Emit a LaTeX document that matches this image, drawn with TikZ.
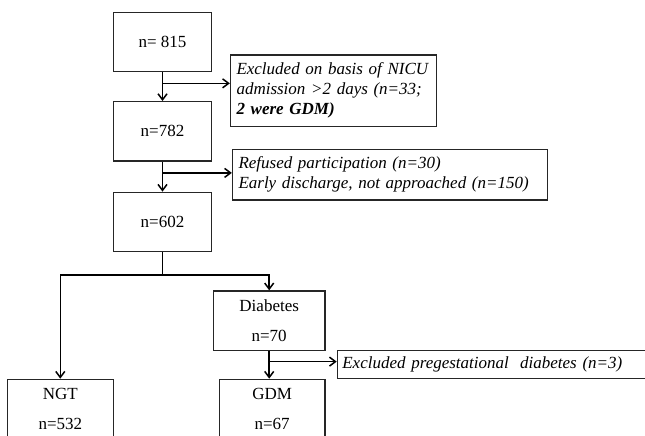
\documentclass[tikz,border=0pt]{standalone}
\usepackage{fontspec}
\setmainfont{Liberation Serif}
\usetikzlibrary{arrows.meta}
\begin{document}
\begin{tikzpicture}[x=1pt,y=-1pt,
  box/.style={draw=black!85,line width=1.3pt,rectangle,inner sep=0pt,
    font=\fontsize{17}{30}\selectfont,align=center},
  exbox/.style={draw=black!85,line width=1.3pt,rectangle,inner xsep=6pt,inner ysep=0pt,
    font=\fontsize{17}{20}\selectfont\itshape,align=left},
  arr/.style={line width=1.6pt,-{Straight Barb[length=6pt,width=9pt,line width=1.5pt]}},
  ln/.style={line width=1.6pt}]
\useasboundingbox (0,0) rectangle (645,436);
\clip (0,0) rectangle (645,436);
\fill[white] (0,0) rectangle (645,436);
\node[box,minimum width=98.5pt,minimum height=59pt] (n815) at (162.5,42.2) {n= 815};
\node[box,minimum width=98.5pt,minimum height=59.3pt] (n782) at (162.5,131.3) {n=782};
\node[box,minimum width=98.5pt,minimum height=59.4pt] (n602) at (162.5,222) {n=602};
\node[exbox,text width=194pt,minimum height=71.7pt] (ex1) at (333.5,90.8)
  {Excluded on basis of NICU\\admission >2 days (n=33;\\\textbf{2 were GDM)}};
\node[exbox,text width=303pt,minimum height=50.5pt] (ex2) at (390,174.7)
  {Refused participation (n=30)\\Early discharge, not approached (n=150)};
\node[box,minimum width=111.7pt,minimum height=59.3pt] (diab) at (269.2,320.6) {Diabetes\\n=70};
\node[exbox,inner xsep=5pt,text width=320pt,minimum height=27.6pt,anchor=west] (ex3) at (336.7,364.5)
  {Excluded pregestational\ \ diabetes (n=3)};
\node[box,minimum width=106pt,minimum height=60pt] (ngt) at (60.3,409.3) {NGT\\n=532};
\node[box,minimum width=105.7pt,minimum height=60pt] (gdm) at (272.2,409.3) {GDM\\n=67};
% connectors
\draw[arr] (n815.south) -- (n782.north);
\path (n815.south) ++(0,11) coordinate (b1);
\draw[arr] (b1) -- (b1 -| ex1.west);
\draw[arr] (n782.south) -- (n602.north);
\path (n782.south) ++(0,11.3) coordinate (b2);
\draw[arr] (b2) -- (b2 -| ex2.west);
\path (n602.south) ++(0,22.6) coordinate (b3);
\draw[ln] (n602.south) -- (b3);
\draw[arr] (b3) -| (ngt.north);
\draw[arr] (b3) -| (diab.north);
\draw[arr] (diab.south) -- (diab.south |- gdm.north);
\path (diab.south) ++(0,10.7) coordinate (b4);
\draw[arr] (b4) -- (b4 -| ex3.west);
\end{tikzpicture}
\end{document}
